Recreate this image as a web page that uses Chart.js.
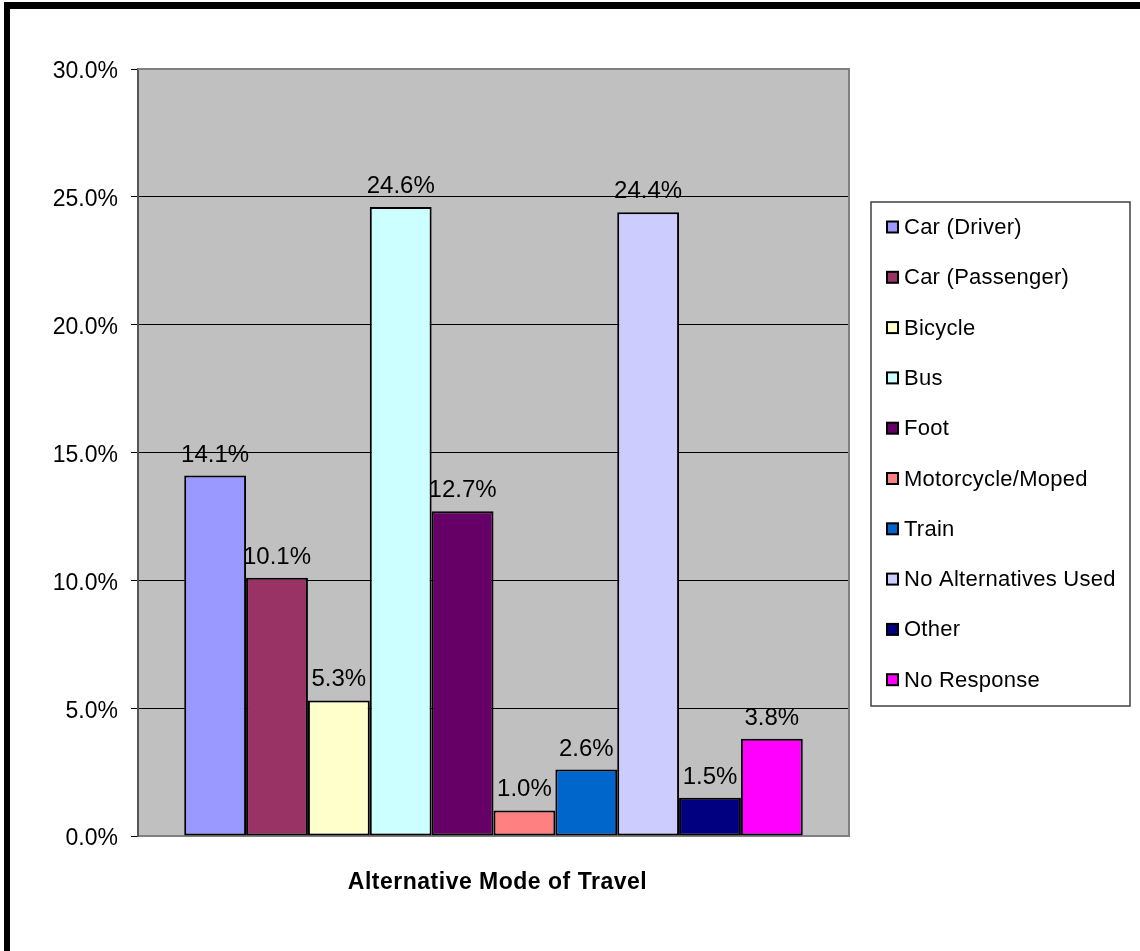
<!DOCTYPE html>
<html>
<head>
<meta charset="utf-8">
<title>Alternative Mode of Travel</title>
<script src="https://cdn.jsdelivr.net/npm/chart.js@4.4.1/dist/chart.umd.min.js"></script>
<style>
  html, body { margin: 0; padding: 0; background: #fff; }
  #wrap { position: relative; width: 1140px; height: 951px; overflow: hidden; }
  #frame {
    position: absolute; left: 4px; top: 2px; right: -20px; bottom: -20px;
    border-top: 7px solid #000; border-left: 6px solid #000;
  }
  #chart { position: absolute; left: 0; top: 0; }
</style>
</head>
<body>
<div id="wrap">
  <div id="frame"></div>
  <canvas id="chart" width="1140" height="951"></canvas>
</div>
<script>
const modes = [
  "Car (Driver)",
  "Car (Passenger)",
  "Bicycle",
  "Bus",
  "Foot",
  "Motorcycle/Moped",
  "Train",
  "No Alternatives Used",
  "Other",
  "No Response"
];
const shares = [14.1, 10.1, 5.3, 24.6, 12.7, 1.0, 2.6, 24.4, 1.5, 3.8];
const colours = [
  "#9999FF", "#993366", "#FFFFCC", "#CCFFFF", "#660066",
  "#FF8080", "#0066CC", "#CCCCFF", "#000080", "#FF00FF"
];
const yMax = 30;
const yStep = 5;
const axisTitle = "Alternative Mode of Travel";

const FONT = "'Liberation Sans', Arial, sans-serif";

// grey plot background plus its outline
const plotArea = {
  id: "plotArea",
  beforeDraw(chart) {
    const { ctx, chartArea: a } = chart;
    ctx.save();
    ctx.fillStyle = "#C0C0C0";
    ctx.fillRect(a.left, a.top, a.right - a.left, a.bottom - a.top);
    ctx.restore();
  },
  beforeDatasetsDraw(chart) {
    const { ctx, chartArea: a } = chart;
    ctx.save();
    ctx.strokeStyle = "#808080";
    ctx.lineWidth = 2;
    ctx.beginPath();
    ctx.moveTo(a.left, a.top);
    ctx.lineTo(a.right, a.top);
    ctx.lineTo(a.right, a.bottom);
    ctx.stroke();
    ctx.restore();
  }
};

// percentage above each bar, boxed legend on the right, axis title
const annotations = {
  id: "annotations",
  afterDatasetsDraw(chart) {
    const { ctx, chartArea: a } = chart;
    ctx.save();
    ctx.fillStyle = "#000";
    ctx.font = "24px " + FONT;
    ctx.textAlign = "center";
    ctx.textBaseline = "alphabetic";
    chart.data.datasets.forEach((ds, i) => {
      const bar = chart.getDatasetMeta(i).data[0];
      ctx.fillText(ds.data[0].toFixed(1) + "%", bar.x, bar.y - 14);
    });

    // legend
    const lx = 871, ly = 202, lw = 259, lh = 504;
    ctx.strokeStyle = "#404040";
    ctx.lineWidth = 1.5;
    ctx.strokeRect(lx, ly, lw, lh);
    ctx.font = "22px " + FONT;
    ctx.letterSpacing = "0.25px";
    ctx.textAlign = "left";
    ctx.textBaseline = "middle";
    chart.data.datasets.forEach((ds, i) => {
      const cy = 227 + i * 50.3;
      ctx.fillStyle = ds.backgroundColor;
      ctx.fillRect(887, cy - 5.5, 11, 11);
      ctx.strokeStyle = "#000";
      ctx.lineWidth = 2;
      ctx.strokeRect(887, cy - 5.5, 11, 11);
      ctx.fillStyle = "#000";
      ctx.fillText(ds.label, 904, cy + 1);
    });

    // x axis title
    ctx.font = "bold 23px " + FONT;
    ctx.letterSpacing = "0.5px";
    ctx.textAlign = "center";
    ctx.fillText(axisTitle, (a.left + a.right) / 2 + 4, 883);
    ctx.restore();
  }
};

new Chart(document.getElementById("chart"), {
  type: "bar",
  data: {
    labels: [""],
    datasets: modes.map((mode, i) => ({
      label: mode,
      data: [shares[i]],
      backgroundColor: colours[i],
      borderColor: "#000",
      borderWidth: 2,
      borderSkipped: false,
      categoryPercentage: 0.87,
      barPercentage: 1
    }))
  },
  options: {
    responsive: false,
    animation: false,
    devicePixelRatio: 1,
    layout: { padding: { left: 0, top: 69, right: 291, bottom: 0 } },
    plugins: {
      legend: { display: false },
      tooltip: { enabled: false }
    },
    scales: {
      x: {
        ticks: { display: false },
        grid: { display: false },
        border: { display: true, color: "#808080", width: 2 },
        afterFit(scale) { scale.height = 115; }
      },
      y: {
        min: 0,
        max: yMax,
        ticks: {
          stepSize: yStep,
          padding: 13,
          labelOffset: 3,
          color: "#000",
          font: { family: FONT, size: 23 },
          callback: (v) => v.toFixed(1) + "%"
        },
        grid: {
          color: "#000",
          lineWidth: 1,
          tickLength: 7,
          tickColor: "#000"
        },
        border: { display: true, color: "#555", width: 2 },
        afterFit(scale) { scale.width = 138; }
      }
    }
  },
  plugins: [plotArea, annotations]
});
</script>
</body>
</html>
